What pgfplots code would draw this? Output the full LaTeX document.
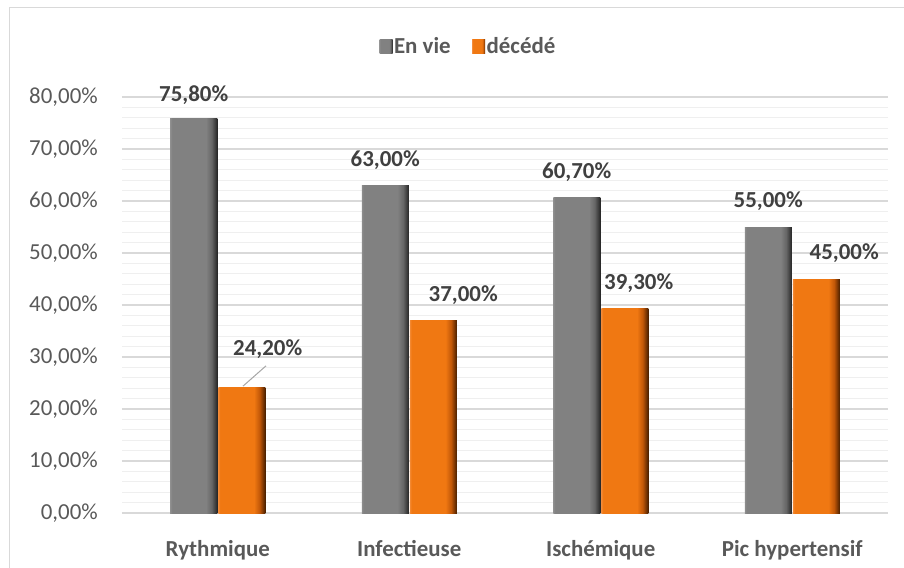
\documentclass[border=0pt]{standalone}
\usepackage{fontspec}
\setmainfont{Carlito}
\usepackage{pgfplots}
\usepackage{pgfplotstable}
\pgfplotsset{compat=1.18}

\definecolor{gridmaj}{HTML}{D9D9D9}
\definecolor{gridmin}{HTML}{EFEFEF}
\definecolor{ticktext}{HTML}{595959}
\definecolor{labeltext}{HTML}{404040}
\definecolor{leader}{HTML}{A6A6A6}
\definecolor{gLite}{HTML}{8E8E8E}
\definecolor{gMain}{HTML}{818181}
\definecolor{gMid}{HTML}{666666}
\definecolor{gDark}{HTML}{262626}
\definecolor{oLite}{HTML}{F38A36}
\definecolor{oMain}{HTML}{F07812}
\definecolor{oMid}{HTML}{C25808}
\definecolor{oDark}{HTML}{4A2000}

% bevelled look of the bars: light left edge, dark right side
\pgfdeclarehorizontalshading{graybar}{100bp}{color(0bp)=(gLite); color(25bp)=(gLite); color(27bp)=(gMain); color(63bp)=(gMain); color(69bp)=(gMid); color(75bp)=(gDark); color(100bp)=(gDark)}
\pgfdeclarehorizontalshading{orangebar}{100bp}{color(0bp)=(oLite); color(25bp)=(oLite); color(27bp)=(oMain); color(63bp)=(oMain); color(69bp)=(oMid); color(75bp)=(oDark); color(100bp)=(oDark)}

% x  value  label offsets (dx, dy in bp)
\pgfplotstableread{
x y dx dy
0 75.8 0 24
1 63.0 0 25
2 60.7 0 25
3 55.0 0 26
}\envie
\pgfplotstableread{
x y dx dy
0 24.2 26 38
1 37.0 30 25
2 39.3 14 25
3 45.0 28 26
}\decede

\newcommand{\chartfont}{\fontsize{23}{27}\selectfont}

\begin{document}
\begin{tikzpicture}
\begin{axis}[
  at={(0,0)}, anchor=south west,
  scale only axis, width=766bp, height=416bp,
  xmin=-0.5, xmax=3.5, ymin=0, ymax=80,
  ybar, bar width=47bp,
  xtick={0,1,2,3},
  xticklabels={Rythmique, Infectieuse, Ischémique, Pic hypertensif},
  ytick={0,10,...,80}, minor y tick num=4,
  ymajorgrids, yminorgrids,
  major grid style={gridmaj, line width=1.3bp},
  minor grid style={gridmin, line width=1.1bp},
  axis x line*=bottom, axis y line*=left,
  y axis line style={draw=none},
  x axis line style={gridmaj, line width=1.3bp},
  tick style={draw=none},
  /pgf/number format/assume math mode=true,
  yticklabel={\pgfmathprintnumber[fixed,fixed zerofill,precision=2,use comma]{\tick}\%},
  yticklabel style={font=\chartfont, text=ticktext, inner sep=0pt, xshift=-24bp},
  xticklabel style={font=\bfseries\chartfont, text=ticktext, inner sep=0pt, yshift=-23bp},
  point meta=y,
  nodes near coords={\pgfmathprintnumber[fixed,fixed zerofill,precision=2,use comma]{\pgfplotspointmeta}\%},
  visualization depends on={\thisrow{dx}\as\dx},
  visualization depends on={\thisrow{dy}\as\dy},
  every node near coord/.append style={anchor=center, xshift=\dx bp, yshift=\dy bp,
    font=\bfseries\chartfont, text=labeltext},
  legend style={at={(0.452,1)}, anchor=center, yshift=51bp, draw=none, fill=none,
    legend columns=2, font=\bfseries\chartfont, text=ticktext,
    nodes={inner sep=1.5bp},
    /tikz/every even column/.append style={column sep=20bp}},
  legend image code/.code={\path[#1, draw=none] (0bp,-7bp) rectangle (13bp,7bp);},
]
% one bar per plot so that each bar gets its own shading
\pgfplotsinvokeforeach{0,1,2,3}{
  \addplot[draw=none, shading=graybar, bar shift=-24bp, forget plot,
    restrict x to domain=#1:#1] table[x=x, y=y] {\envie};
  \addplot[draw=none, shading=orangebar, bar shift=24bp, forget plot,
    restrict x to domain=#1:#1] table[x=x, y=y] {\decede};
}
\addlegendimage{draw=none, shading=graybar}
\addlegendentry{En vie}
\addlegendimage{draw=none, shading=orangebar}
\addlegendentry{décédé}
% leader line of the shifted 24,20% label
\draw[leader, line width=1bp] (axis cs:0.132,24.4) -- (axis cs:0.252,28.3);
\end{axis}
% chart frame
\draw[gridmaj, line width=1.3bp] (-112.5bp,505.5bp) rectangle (800bp,-80bp);
\pgfresetboundingbox
\useasboundingbox (-122bp,-55bp) rectangle (782bp,513bp);
\end{tikzpicture}
\end{document}
